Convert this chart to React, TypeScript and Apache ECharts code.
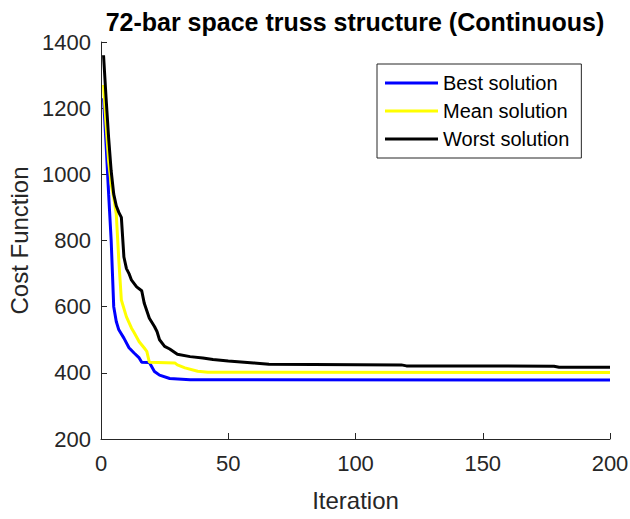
import React, { useEffect, useRef } from "react";
import * as echarts from "echarts";

const titleText = "72-bar space truss structure (Continuous)";
const xAxisName = "Iteration";
const yAxisName = "Cost Function";
const seriesNames = ["Best solution", "Mean solution", "Worst solution"];
const seriesColors = ["#0000ff", "#ffff00", "#000000"];

// [iteration, cost] breakpoints
const bestSolution: [number, number][] = [
  [1, 1230], [2, 1090], [3, 940], [4, 800], [5, 600], [6, 555], [7, 530],
  [9, 505], [11, 476], [13, 460], [15, 445], [16, 432], [19, 431], [21, 404],
  [23, 393], [27, 383], [35, 379], [200, 378],
];
const meanSolution: [number, number][] = [
  [1, 1270], [2, 1150], [3, 1040], [4, 970], [5, 930], [6, 880], [7, 740],
  [8, 620], [10, 569], [12, 535], [13, 522], [15, 494], [17, 475], [18, 465],
  [19, 432], [29, 430], [30, 424], [33, 415], [38, 405], [42, 402], [200, 401],
];
const worstSolution: [number, number][] = [
  [1, 1360], [2, 1230], [3, 1110], [4, 1010], [5, 940], [6, 905], [7, 885],
  [8, 870], [9, 750], [10, 715], [11, 700], [12, 680], [14, 660], [16, 648],
  [17, 610], [19, 565], [21, 540], [22, 525], [23, 500], [25, 480], [27, 472],
  [30, 456], [35, 449], [40, 445], [44, 440], [50, 436], [55, 433], [60, 430],
  [66, 426], [118, 424], [120, 421], [178, 420], [180, 417], [200, 417],
];
const allSeries = [bestSolution, meanSolution, worstSolution];

const xMin = 0, xMax = 200, xInterval = 50;
const yMin = 200, yMax = 1400, yInterval = 200;

const FONT = "'Liberation Sans', Arial, Helvetica, sans-serif";
const AXIS_COLOR = "#262626";

export default function App() {
  const ref = useRef<HTMLDivElement>(null);
  useEffect(() => {
    if (!ref.current) return;
    const chart = echarts.init(ref.current, undefined, { renderer: "svg" });
    chart.setOption({
      animation: false,
      backgroundColor: "#ffffff",
      textStyle: { fontFamily: FONT },
      graphic: [
        {
          type: "text",
          x: 355,
          y: 22,
          style: {
            text: titleText,
            fill: "#000000",
            font: `bold 25px ${FONT}`,
            textAlign: "center",
            textVerticalAlign: "middle",
          },
        },
      ],
      grid: {
        left: 101,
        right: 20,
        top: 42,
        bottom: 80,
        containLabel: false,
        outerBoundsMode: "none",
      },
      legend: {
        left: 377,
        top: 64,
        orient: "vertical",
        padding: [9, 12, 9, 8],
        itemGap: 8,
        itemWidth: 53,
        itemHeight: 3,
        icon: "rect",
        borderColor: AXIS_COLOR,
        borderWidth: 1,
        backgroundColor: "#ffffff",
        textStyle: { fontSize: 20, color: "#000000", fontFamily: FONT, lineHeight: 20 },
        data: seriesNames,
      },
      xAxis: {
        type: "value",
        min: xMin,
        max: xMax,
        interval: xInterval,
        name: xAxisName,
        nameLocation: "middle",
        nameGap: 49,
        nameTextStyle: { fontSize: 24, color: AXIS_COLOR, fontFamily: FONT },
        axisLine: { show: true, lineStyle: { color: AXIS_COLOR, width: 1 } },
        axisTick: { show: true, inside: true, length: 6, lineStyle: { color: AXIS_COLOR } },
        axisLabel: {
          fontSize: 22,
          color: AXIS_COLOR,
          margin: 13,
          fontFamily: FONT,
          formatter: (v: number) => String(v),
        },
        splitLine: { show: false },
      },
      yAxis: {
        type: "value",
        min: yMin,
        max: yMax,
        interval: yInterval,
        name: yAxisName,
        nameLocation: "middle",
        nameGap: 64,
        nameTextStyle: { fontSize: 24, color: AXIS_COLOR, fontFamily: FONT },
        axisLine: { show: true, lineStyle: { color: AXIS_COLOR, width: 1 } },
        axisTick: { show: true, inside: true, length: 6, lineStyle: { color: AXIS_COLOR } },
        axisLabel: {
          fontSize: 22,
          color: AXIS_COLOR,
          margin: 10,
          fontFamily: FONT,
          formatter: (v: number) => String(v),
        },
        splitLine: { show: false },
      },
      series: allSeries.map((d, i) => ({
        name: seriesNames[i],
        type: "line",
        data: d,
        showSymbol: false,
        symbol: "none",
        lineStyle: { color: seriesColors[i], width: 3 },
        itemStyle: { color: seriesColors[i] },
        z: 2 + i,
      })),
    });
    return () => chart.dispose();
  }, []);
  return (
    <div
      ref={ref}
      style={{ position: "fixed", left: 0, top: 0, width: 630, height: 519 }}
    />
  );
}
